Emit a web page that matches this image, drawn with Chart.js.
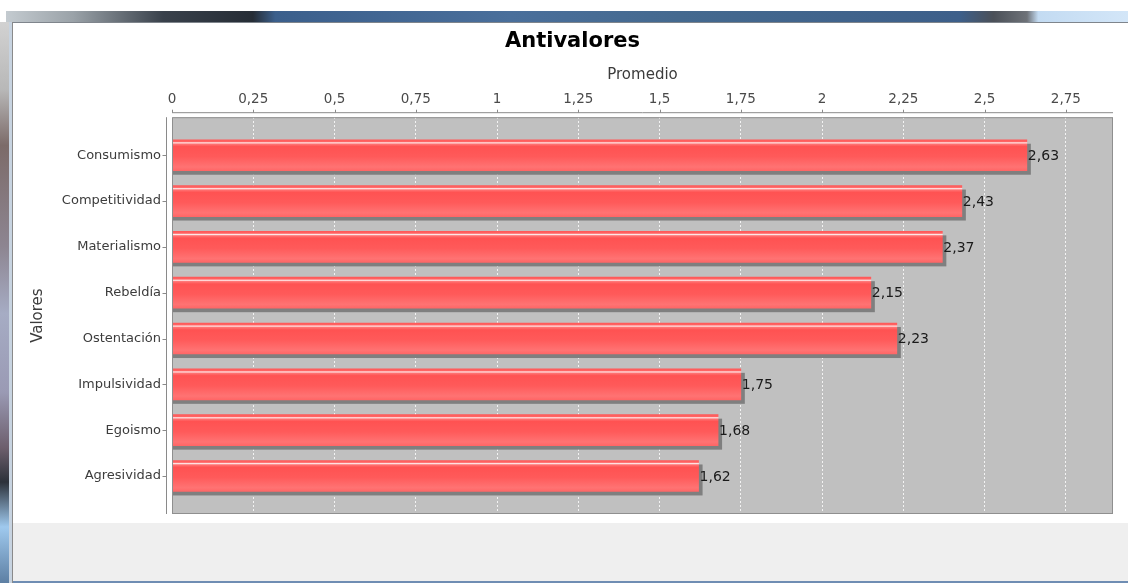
<!DOCTYPE html>
<html><head><meta charset="utf-8">
<script src="https://cdn.jsdelivr.net/npm/chart.js@4.4.1/dist/chart.umd.min.js"></script>
<style>
html,body{margin:0;padding:0;width:1128px;height:583px;overflow:hidden;background:#fff;}
.f{position:absolute;}
#titlebar{left:6px;top:11px;width:1122px;height:11px;background:linear-gradient(to right,#c4cbd0 0%,#9aa2a8 6%,#39414b 14%,#262d36 22%,#3b5f8c 24%,#4a6f9b 45%,#44698f 60%,#3d5f8a 85%,#4b5058 88%,#6e7278 91%,#c3dbf2 92%,#d3e6f8 100%);}
#tbline{left:12px;top:22px;width:1116px;height:1px;background:#7f858c;}
#leftborder{left:0;top:22px;width:9px;height:561px;background:linear-gradient(to bottom,#d2d2d2 0%,#b8b8b8 12%,#7c6b69 22%,#8d8591 40%,#a6acc4 52%,#9a9ab4 66%,#6c5e6c 76%,#2c313a 82%,#9fc9ee 90%,#5d7fa3 100%);}
#leftstrip{left:9px;top:22px;width:3px;height:561px;background:#c7d3e0;}
#leftline{left:12px;top:22px;width:1px;height:561px;background:#8a8a8a;}
#bottompanel{left:13px;top:523px;width:1115px;height:58px;background:#efefef;}
#bottomline{left:13px;top:581px;width:1115px;height:2px;background:#6f8db3;}
canvas{position:absolute;left:0;top:0;}
</style></head>
<body>
<div class="f" id="titlebar"></div>
<div class="f" id="tbline"></div>
<div class="f" id="leftborder"></div>
<div class="f" id="leftstrip"></div>
<div class="f" id="leftline"></div>
<div class="f" id="bottompanel"></div>
<div class="f" id="bottomline"></div>
<canvas id="c" width="1128" height="583"></canvas>
<script>
const categories = ['Consumismo','Competitividad','Materialismo','Rebeldía','Ostentación','Impulsividad','Egoismo','Agresividad'];
const values = [2.63, 2.43, 2.37, 2.15, 2.23, 1.75, 1.68, 1.62];
const xTicks = [0, 0.25, 0.5, 0.75, 1, 1.25, 1.5, 1.75, 2, 2.25, 2.5, 2.75];
const xMax = 2.895;
const chartTitle = 'Antivalores';
const xTitle = 'Promedio';
const yTitle = 'Valores';

const FONT = '"DejaVu Sans", sans-serif';
const BAR_H = 31;
const fmt = v => String(v).replace('.', ',');

function barFill(c) {
  const chart = c.chart;
  const ys = chart.scales && chart.scales.y;
  if (!ys || c.dataIndex === undefined) return '#ff5555';
  const cy = ys.getPixelForValue(c.dataIndex);
  if (!isFinite(cy)) return '#ff5555';
  const t = cy - BAR_H / 2, b = cy + BAR_H / 2;
  const g = chart.ctx.createLinearGradient(0, t, 0, b);
  g.addColorStop(0, '#ff5858');
  g.addColorStop(0.06, '#ff6464');
  g.addColorStop(0.10, '#ffe8e8');
  g.addColorStop(0.14, '#ff7474');
  g.addColorStop(0.22, '#ff5252');
  g.addColorStop(0.55, '#ff5a5a');
  g.addColorStop(0.88, '#ff7373');
  g.addColorStop(1, '#ff6666');
  return g;
}

const decor = {
  id: 'decor',
  beforeDraw(chart) {
    const {ctx, chartArea: a} = chart;
    ctx.save();
    ctx.fillStyle = '#c0c0c0';
    ctx.fillRect(a.left, a.top, a.right - a.left, a.bottom - a.top);
    ctx.restore();
  },
  beforeDatasetsDraw(chart) {
    const {ctx} = chart;
    const meta = chart.getDatasetMeta(0);
    ctx.save();
    ctx.fillStyle = '#7f7f7f';
    meta.data.forEach(el => {
      const h = el.height;
      ctx.fillRect(el.base, el.y - h / 2 + 4, el.x - el.base + 4, h);
    });
    ctx.restore();
  },
  afterDatasetsDraw(chart) {
    const {ctx, chartArea: a, scales} = chart;
    const meta = chart.getDatasetMeta(0);
    ctx.save();
    ctx.strokeStyle = '#8f8f8f';
    ctx.lineWidth = 1;
    ctx.strokeRect(a.left + 0.5, a.top + 0.5, a.right - a.left - 1, a.bottom - a.top - 1);
    ctx.fillStyle = '#1a1a1a';
    ctx.font = '14px ' + FONT;
    ctx.textAlign = 'left';
    ctx.textBaseline = 'middle';
    meta.data.forEach((el, i) => {
      ctx.fillText(values[i].toFixed(2).replace('.', ','), el.x + 1, el.y + 1);
    });
    ctx.strokeStyle = '#8a8a8a';
    const ay = a.top - 4.5;
    ctx.beginPath();
    ctx.moveTo(a.left, ay); ctx.lineTo(a.right, ay);
    xTicks.forEach(v => {
      const px = Math.round(scales.x.getPixelForValue(v)) + 0.5;
      ctx.moveTo(px, ay); ctx.lineTo(px, ay - 3);
    });
    const ax = a.left - 5.5;
    ctx.moveTo(ax, a.top); ctx.lineTo(ax, a.bottom);
    categories.forEach((c, i) => {
      const py = Math.round(scales.y.getPixelForValue(i)) + 0.5;
      ctx.moveTo(ax, py); ctx.lineTo(ax - 4, py);
    });
    ctx.stroke();
    ctx.restore();
  }
};

new Chart(document.getElementById('c'), {
  type: 'bar',
  data: {
    datasets: [{
      data: values.map((v, i) => ({x: v, y: i})),
      backgroundColor: barFill,
      borderWidth: 0,
      barThickness: BAR_H
    }]
  },
  options: {
    indexAxis: 'y',
    responsive: false,
    animation: false,
    devicePixelRatio: 1,
    layout: {padding: {left: 32, right: 15, top: 0, bottom: 69}},
    plugins: {
      legend: {display: false},
      tooltip: {enabled: false},
      title: {
        display: true, text: chartTitle, color: '#000',
        font: {family: FONT, size: 21, weight: 'bold'},
        padding: {top: 29, bottom: 0}
      }
    },
    scales: {
      x: {
        type: 'linear', position: 'top', min: 0, max: xMax, offset: false,
        afterBuildTicks: s => { s.ticks = xTicks.map(v => ({value: v})); },
        afterFit: s => { s.height = 117 - 29 - 25; },
        ticks: {
          callback: v => fmt(v), color: '#4a4a4a', autoSkip: false, maxRotation: 0,
          font: {family: FONT, size: 13.5}, padding: 10
        },
        grid: {color: 'rgba(245,245,245,0.95)', drawTicks: false, lineWidth: 1},
        border: {display: false, dash: [2, 2]},
        title: {display: true, text: xTitle, color: '#3c3c3c', font: {family: FONT, size: 15}, padding: {top: 12, bottom: 0}}
      },
      y: {
        type: 'linear', position: 'left', min: -0.83, max: 7.83, reverse: true, offset: false,
        afterBuildTicks: s => { s.ticks = categories.map((c, i) => ({value: i})); },
        afterFit: s => { s.width = 140; },
        ticks: {
          callback: v => categories[v], color: '#3c3c3c', autoSkip: false,
          font: {family: FONT, size: 13}, padding: 11
        },
        grid: {display: false, drawTicks: false},
        border: {display: false},
        title: {display: true, text: yTitle, color: '#3c3c3c', font: {family: FONT, size: 15}, padding: {top: -3, bottom: 0}}
      }
    }
  },
  plugins: [decor]
});
</script>
</body></html>
